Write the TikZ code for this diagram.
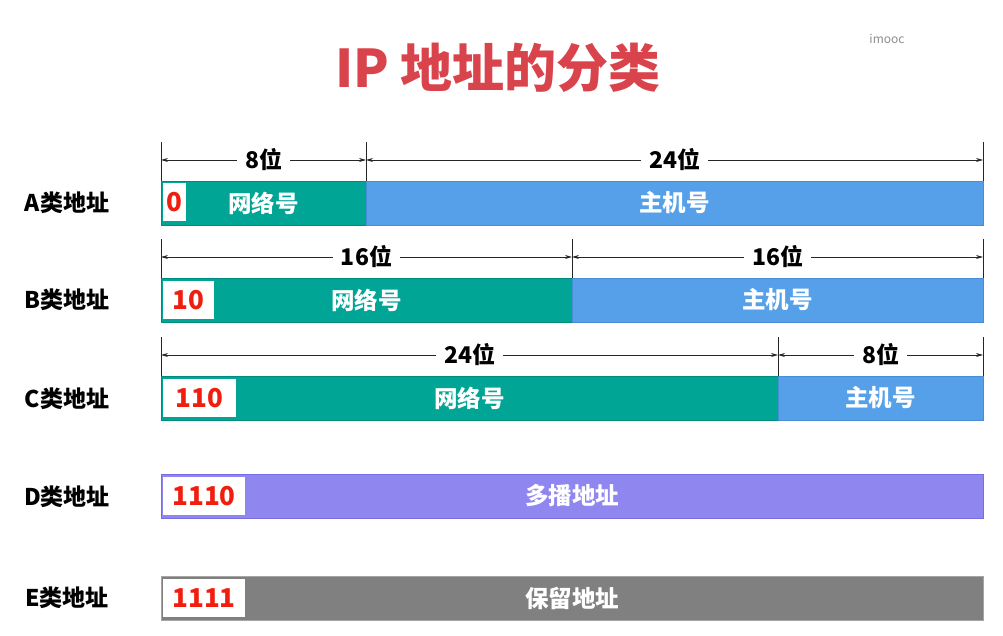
\documentclass[tikz,border=0pt]{standalone}
\usepackage{fontspec}
\setmainfont{Noto Sans CJK SC}
\usetikzlibrary{arrows.meta}
\definecolor{titlered}{RGB}{217,67,75}
\definecolor{digred}{RGB}{240,30,15}
\definecolor{netteal}{RGB}{0,165,150}
\definecolor{netedge}{RGB}{0,140,125}
\definecolor{hostblue}{RGB}{85,160,232}
\definecolor{hostedge}{RGB}{70,140,215}
\definecolor{mcpurple}{RGB}{143,134,240}
\definecolor{mcedge}{RGB}{120,110,225}
\definecolor{resgray}{RGB}{128,128,128}
\definecolor{resedge}{RGB}{165,165,165}
\begin{document}
\begin{tikzpicture}[x=1pt,y=-1pt,
  seg/.style={rectangle,inner sep=0pt,outer sep=0pt,anchor=north west,
    minimum height=44pt,text=white,font=\fontsize{23.5}{23.5}\selectfont\bfseries,line width=0.8pt},
  netseg/.style={seg,fill=netteal,draw=netedge},
  hostseg/.style={seg,fill=hostblue,draw=hostedge},
  bitbox/.style={rectangle,inner sep=0pt,outer sep=0pt,anchor=north west,fill=white,
    minimum height=38pt,text=digred,font=\fontsize{26}{26}\selectfont\bfseries},
  rowlab/.style={font=\fontsize{23}{23}\selectfont\bfseries,text=black},
  tick/.style={line width=0.7pt,black!85},
  dimline/.style={line width=0.7pt,black!85,{Stealth[length=7pt,width=4pt]}-{Stealth[length=7pt,width=4pt]}},
  dimlab/.style={fill=white,inner xsep=8pt,inner ysep=1pt,font=\fontsize{23}{23}\selectfont\bfseries,text=black}
]
\useasboundingbox (0,0) rectangle (1003,636);
% title
\node[text=titlered,font=\fontsize{52}{52}\selectfont\bfseries] (title) at (498,68) {IP 地址的分类};
\node[text=black!45,font=\fontsize{12}{12}\selectfont] (wm) at (887,39) {imooc};

% A
\node[rowlab] (la) at (67,203) {A类地址};
\node[netseg,minimum width=205pt] (an) at (161,181) {网络号};
\node[hostseg,minimum width=617pt] (ah) at (366,181) {主机号};
\node[bitbox,minimum width=23pt] (ab) at (163,183) {0};
\coordinate (at1) at (161,142); \coordinate (at2) at (366,142); \coordinate (at3) at (983,142);
\draw[tick] (an.north west) -- (at1);
\draw[tick] (an.north east) -- (at2);
\draw[tick] (ah.north east) -- (at3);
\coordinate (ad1) at (161,160); \coordinate (ad2) at (366,160); \coordinate (ad3) at (983,160);
\draw[dimline] (ad1) -- node[dimlab] (adl1) {8位} (ad2);
\draw[dimline] (ad2) -- node[dimlab] (adl2) {24位} (ad3);

% B
\node[rowlab] (lb) at (67,300) {B类地址};
\node[netseg,minimum width=411pt] (bn) at (161,278) {网络号};
\node[hostseg,minimum width=411pt] (bh) at (572,278) {主机号};
\node[bitbox,minimum width=51pt] (bb) at (163,281) {10};
\coordinate (bt1) at (161,239); \coordinate (bt2) at (572,239); \coordinate (bt3) at (983,239);
\draw[tick] (bn.north west) -- (bt1);
\draw[tick] (bn.north east) -- (bt2);
\draw[tick] (bh.north east) -- (bt3);
\coordinate (bd1) at (161,257); \coordinate (bd2) at (572,257); \coordinate (bd3) at (983,257);
\draw[dimline] (bd1) -- node[dimlab] (bdl1) {16位} (bd2);
\draw[dimline] (bd2) -- node[dimlab] (bdl2) {16位} (bd3);

% C
\node[rowlab] (lc) at (67,399) {C类地址};
\node[netseg,minimum width=617pt] (cn) at (161,376) {网络号};
\node[hostseg,minimum width=205pt] (ch) at (778,376) {主机号};
\node[bitbox,minimum width=73pt] (cb) at (163,379) {110};
\coordinate (ct1) at (161,337); \coordinate (ct2) at (778,337); \coordinate (ct3) at (983,337);
\draw[tick] (cn.north west) -- (ct1);
\draw[tick] (cn.north east) -- (ct2);
\draw[tick] (ch.north east) -- (ct3);
\coordinate (cd1) at (161,355); \coordinate (cd2) at (778,355); \coordinate (cd3) at (983,355);
\draw[dimline] (cd1) -- node[dimlab] (cdl1) {24位} (cd2);
\draw[dimline] (cd2) -- node[dimlab] (cdl2) {8位} (cd3);

% D
\node[rowlab] (ld) at (67,497) {D类地址};
\node[seg,fill=mcpurple,draw=mcedge,minimum width=822pt] (dm) at (161,474) {多播地址};
\node[bitbox,minimum width=82pt] (db) at (163,477) {1110};

% E
\node[rowlab] (le) at (67,598) {E类地址};
\node[seg,fill=resgray,draw=resedge,minimum width=822pt] (er) at (161,576) {保留地址};
\node[bitbox,minimum width=82pt] (eb) at (163,579) {1111};
\end{tikzpicture}
\end{document}
